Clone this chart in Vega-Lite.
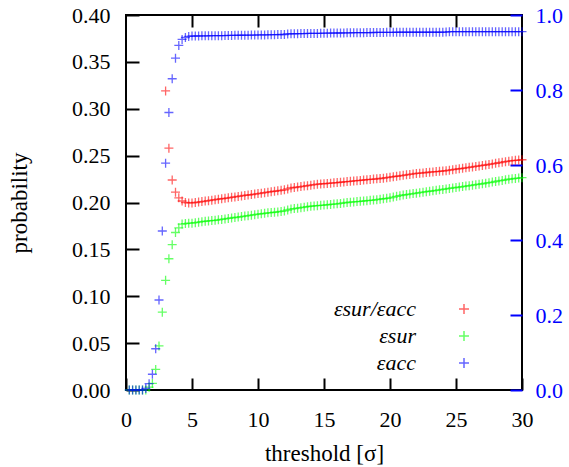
{
  "$schema": "https://vega.github.io/schema/vega-lite/v6.json",
  "autosize": {"type": "none"},
  "padding": {"left": 126, "top": 15, "right": 47, "bottom": 77},
  "width": 396,
  "height": 375,
  "background": "white",
  "config": {
    "view": {"stroke": "#000000", "strokeWidth": 2}
  },
  "data": {"values": [
    {"t":0.25,"k":"εacc","v":0},{"t":0.5,"k":"εacc","v":0},{"t":0.75,"k":"εacc","v":0},{"t":1,"k":"εacc","v":0},{"t":1.25,"k":"εacc","v":0},
    {"t":1.5,"k":"εacc","v":0.004},{"t":1.75,"k":"εacc","v":0.017},{"t":2,"k":"εacc","v":0.042},{"t":2.25,"k":"εacc","v":0.11},{"t":2.5,"k":"εacc","v":0.24},
    {"t":2.75,"k":"εacc","v":0.424},{"t":3,"k":"εacc","v":0.605},{"t":3.25,"k":"εacc","v":0.74},{"t":3.5,"k":"εacc","v":0.83},{"t":3.75,"k":"εacc","v":0.885},
    {"t":4,"k":"εacc","v":0.919},{"t":4.25,"k":"εacc","v":0.935},{"t":4.5,"k":"εacc","v":0.94},{"t":4.75,"k":"εacc","v":0.943},{"t":5,"k":"εacc","v":0.944},
    {"t":5.25,"k":"εacc","v":0.944},{"t":5.5,"k":"εacc","v":0.944},{"t":5.75,"k":"εacc","v":0.9445},{"t":6,"k":"εacc","v":0.9445},{"t":6.25,"k":"εacc","v":0.9445},
    {"t":6.5,"k":"εacc","v":0.945},{"t":6.75,"k":"εacc","v":0.945},{"t":7,"k":"εacc","v":0.945},{"t":7.25,"k":"εacc","v":0.945},{"t":7.5,"k":"εacc","v":0.9452},
    {"t":7.75,"k":"εacc","v":0.9454},{"t":8,"k":"εacc","v":0.9456},{"t":8.25,"k":"εacc","v":0.9458},{"t":8.5,"k":"εacc","v":0.946},{"t":8.75,"k":"εacc","v":0.946},
    {"t":9,"k":"εacc","v":0.946},{"t":9.25,"k":"εacc","v":0.9462},{"t":9.5,"k":"εacc","v":0.9464},{"t":9.75,"k":"εacc","v":0.9466},{"t":10,"k":"εacc","v":0.9468},
    {"t":10.25,"k":"εacc","v":0.947},{"t":10.5,"k":"εacc","v":0.947},{"t":10.75,"k":"εacc","v":0.9472},{"t":11,"k":"εacc","v":0.9474},{"t":11.25,"k":"εacc","v":0.9476},
    {"t":11.5,"k":"εacc","v":0.9478},{"t":11.75,"k":"εacc","v":0.948},{"t":12,"k":"εacc","v":0.948},{"t":12.25,"k":"εacc","v":0.9495},{"t":12.5,"k":"εacc","v":0.95},
    {"t":12.75,"k":"εacc","v":0.95},{"t":13,"k":"εacc","v":0.9502},{"t":13.25,"k":"εacc","v":0.9504},{"t":13.5,"k":"εacc","v":0.9506},{"t":13.75,"k":"εacc","v":0.9508},
    {"t":14,"k":"εacc","v":0.951},{"t":14.25,"k":"εacc","v":0.951},{"t":14.5,"k":"εacc","v":0.951},{"t":14.75,"k":"εacc","v":0.9512},{"t":15,"k":"εacc","v":0.9514},
    {"t":15.25,"k":"εacc","v":0.9516},{"t":15.5,"k":"εacc","v":0.9518},{"t":15.75,"k":"εacc","v":0.952},{"t":16,"k":"εacc","v":0.952},{"t":16.25,"k":"εacc","v":0.952},
    {"t":16.5,"k":"εacc","v":0.9522},{"t":16.75,"k":"εacc","v":0.9524},{"t":17,"k":"εacc","v":0.9526},{"t":17.25,"k":"εacc","v":0.9528},{"t":17.5,"k":"εacc","v":0.953},
    {"t":17.75,"k":"εacc","v":0.953},{"t":18,"k":"εacc","v":0.953},{"t":18.25,"k":"εacc","v":0.9531},{"t":18.5,"k":"εacc","v":0.9532},{"t":18.75,"k":"εacc","v":0.9533},
    {"t":19,"k":"εacc","v":0.9534},{"t":19.25,"k":"εacc","v":0.9535},{"t":19.5,"k":"εacc","v":0.9536},{"t":19.75,"k":"εacc","v":0.9537},{"t":20,"k":"εacc","v":0.9538},
    {"t":20.25,"k":"εacc","v":0.9539},{"t":20.5,"k":"εacc","v":0.954},{"t":20.75,"k":"εacc","v":0.954},{"t":21,"k":"εacc","v":0.954},{"t":21.25,"k":"εacc","v":0.954},
    {"t":21.5,"k":"εacc","v":0.954},{"t":21.75,"k":"εacc","v":0.954},{"t":22,"k":"εacc","v":0.954},{"t":22.25,"k":"εacc","v":0.954},{"t":22.5,"k":"εacc","v":0.954},
    {"t":22.75,"k":"εacc","v":0.954},{"t":23,"k":"εacc","v":0.954},{"t":23.25,"k":"εacc","v":0.954},{"t":23.5,"k":"εacc","v":0.954},{"t":23.75,"k":"εacc","v":0.954},
    {"t":24,"k":"εacc","v":0.954},{"t":24.25,"k":"εacc","v":0.9545},{"t":24.5,"k":"εacc","v":0.9555},{"t":24.75,"k":"εacc","v":0.9555},{"t":25,"k":"εacc","v":0.9555},
    {"t":25.25,"k":"εacc","v":0.9555},{"t":25.5,"k":"εacc","v":0.9555},{"t":25.75,"k":"εacc","v":0.9556},{"t":26,"k":"εacc","v":0.9556},{"t":26.25,"k":"εacc","v":0.9556},
    {"t":26.5,"k":"εacc","v":0.9556},{"t":26.75,"k":"εacc","v":0.9556},{"t":27,"k":"εacc","v":0.9556},{"t":27.25,"k":"εacc","v":0.9556},{"t":27.5,"k":"εacc","v":0.9556},
    {"t":27.75,"k":"εacc","v":0.9556},{"t":28,"k":"εacc","v":0.9556},{"t":28.25,"k":"εacc","v":0.9556},{"t":28.5,"k":"εacc","v":0.9556},{"t":28.75,"k":"εacc","v":0.9556},
    {"t":29,"k":"εacc","v":0.9556},{"t":29.25,"k":"εacc","v":0.9556},{"t":29.5,"k":"εacc","v":0.9556},{"t":29.75,"k":"εacc","v":0.9556},{"t":30,"k":"εacc","v":0.9556},

    {"t":0.25,"k":"εsur","v":0},{"t":0.5,"k":"εsur","v":0},{"t":0.75,"k":"εsur","v":0},{"t":1,"k":"εsur","v":0},{"t":1.25,"k":"εsur","v":0},
    {"t":1.5,"k":"εsur","v":0},{"t":1.75,"k":"εsur","v":0.003},{"t":2,"k":"εsur","v":0.007},{"t":2.25,"k":"εsur","v":0.022},{"t":2.5,"k":"εsur","v":0.047},
    {"t":2.75,"k":"εsur","v":0.083},{"t":3,"k":"εsur","v":0.117},{"t":3.25,"k":"εsur","v":0.14},{"t":3.5,"k":"εsur","v":0.155},{"t":3.75,"k":"εsur","v":0.168},
    {"t":4,"k":"εsur","v":0.173},{"t":4.25,"k":"εsur","v":0.177},{"t":4.5,"k":"εsur","v":0.1775},{"t":4.75,"k":"εsur","v":0.178},{"t":5,"k":"εsur","v":0.178},
    {"t":5.25,"k":"εsur","v":0.1785},{"t":5.5,"k":"εsur","v":0.179},{"t":5.75,"k":"εsur","v":0.1795},{"t":6,"k":"εsur","v":0.18},{"t":6.25,"k":"εsur","v":0.1803},
    {"t":6.5,"k":"εsur","v":0.1807},{"t":6.75,"k":"εsur","v":0.181},{"t":7,"k":"εsur","v":0.1815},{"t":7.25,"k":"εsur","v":0.182},{"t":7.5,"k":"εsur","v":0.1825},
    {"t":7.75,"k":"εsur","v":0.183},{"t":8,"k":"εsur","v":0.1835},{"t":8.25,"k":"εsur","v":0.184},{"t":8.5,"k":"εsur","v":0.1845},{"t":8.75,"k":"εsur","v":0.185},
    {"t":9,"k":"εsur","v":0.1855},{"t":9.25,"k":"εsur","v":0.186},{"t":9.5,"k":"εsur","v":0.1865},{"t":9.75,"k":"εsur","v":0.187},{"t":10,"k":"εsur","v":0.1875},
    {"t":10.25,"k":"εsur","v":0.188},{"t":10.5,"k":"εsur","v":0.1885},{"t":10.75,"k":"εsur","v":0.189},{"t":11,"k":"εsur","v":0.1893},{"t":11.25,"k":"εsur","v":0.1896},
    {"t":11.5,"k":"εsur","v":0.19},{"t":11.75,"k":"εsur","v":0.1905},{"t":12,"k":"εsur","v":0.191},{"t":12.25,"k":"εsur","v":0.192},{"t":12.5,"k":"εsur","v":0.193},
    {"t":12.75,"k":"εsur","v":0.1935},{"t":13,"k":"εsur","v":0.194},{"t":13.25,"k":"εsur","v":0.1945},{"t":13.5,"k":"εsur","v":0.195},{"t":13.75,"k":"εsur","v":0.1955},
    {"t":14,"k":"εsur","v":0.196},{"t":14.25,"k":"εsur","v":0.1963},{"t":14.5,"k":"εsur","v":0.1966},{"t":14.75,"k":"εsur","v":0.197},{"t":15,"k":"εsur","v":0.1973},
    {"t":15.25,"k":"εsur","v":0.1976},{"t":15.5,"k":"εsur","v":0.198},{"t":15.75,"k":"εsur","v":0.1983},{"t":16,"k":"εsur","v":0.1986},{"t":16.25,"k":"εsur","v":0.199},
    {"t":16.5,"k":"εsur","v":0.1995},{"t":16.75,"k":"εsur","v":0.2},{"t":17,"k":"εsur","v":0.2003},{"t":17.25,"k":"εsur","v":0.2006},{"t":17.5,"k":"εsur","v":0.201},
    {"t":17.75,"k":"εsur","v":0.2013},{"t":18,"k":"εsur","v":0.2016},{"t":18.25,"k":"εsur","v":0.202},{"t":18.5,"k":"εsur","v":0.2023},{"t":18.75,"k":"εsur","v":0.2026},
    {"t":19,"k":"εsur","v":0.203},{"t":19.25,"k":"εsur","v":0.2035},{"t":19.5,"k":"εsur","v":0.204},{"t":19.75,"k":"εsur","v":0.2045},{"t":20,"k":"εsur","v":0.205},
    {"t":20.25,"k":"εsur","v":0.2058},{"t":20.5,"k":"εsur","v":0.2066},{"t":20.75,"k":"εsur","v":0.2073},{"t":21,"k":"εsur","v":0.208},{"t":21.25,"k":"εsur","v":0.2085},
    {"t":21.5,"k":"εsur","v":0.209},{"t":21.75,"k":"εsur","v":0.2095},{"t":22,"k":"εsur","v":0.21},{"t":22.25,"k":"εsur","v":0.2105},{"t":22.5,"k":"εsur","v":0.211},
    {"t":22.75,"k":"εsur","v":0.2115},{"t":23,"k":"εsur","v":0.212},{"t":23.25,"k":"εsur","v":0.2125},{"t":23.5,"k":"εsur","v":0.213},{"t":23.75,"k":"εsur","v":0.2135},
    {"t":24,"k":"εsur","v":0.214},{"t":24.25,"k":"εsur","v":0.2145},{"t":24.5,"k":"εsur","v":0.215},{"t":24.75,"k":"εsur","v":0.2155},{"t":25,"k":"εsur","v":0.216},
    {"t":25.25,"k":"εsur","v":0.2165},{"t":25.5,"k":"εsur","v":0.217},{"t":25.75,"k":"εsur","v":0.2175},{"t":26,"k":"εsur","v":0.218},{"t":26.25,"k":"εsur","v":0.2185},
    {"t":26.5,"k":"εsur","v":0.219},{"t":26.75,"k":"εsur","v":0.2195},{"t":27,"k":"εsur","v":0.22},{"t":27.25,"k":"εsur","v":0.2206},{"t":27.5,"k":"εsur","v":0.2212},
    {"t":27.75,"k":"εsur","v":0.2218},{"t":28,"k":"εsur","v":0.2224},{"t":28.25,"k":"εsur","v":0.223},{"t":28.5,"k":"εsur","v":0.2236},{"t":28.75,"k":"εsur","v":0.2242},
    {"t":29,"k":"εsur","v":0.2248},{"t":29.25,"k":"εsur","v":0.2253},{"t":29.5,"k":"εsur","v":0.2257},{"t":29.75,"k":"εsur","v":0.2261},{"t":30,"k":"εsur","v":0.2265},

    {"t":3,"k":"εsur/εacc","v":0.319},{"t":3.25,"k":"εsur/εacc","v":0.258},{"t":3.5,"k":"εsur/εacc","v":0.224},{"t":3.75,"k":"εsur/εacc","v":0.211},{"t":4,"k":"εsur/εacc","v":0.205},
    {"t":4.25,"k":"εsur/εacc","v":0.2016},{"t":4.5,"k":"εsur/εacc","v":0.2},{"t":4.75,"k":"εsur/εacc","v":0.1995},{"t":5,"k":"εsur/εacc","v":0.1995},{"t":5.25,"k":"εsur/εacc","v":0.2},
    {"t":5.5,"k":"εsur/εacc","v":0.2005},{"t":5.75,"k":"εsur/εacc","v":0.201},{"t":6,"k":"εsur/εacc","v":0.2015},{"t":6.25,"k":"εsur/εacc","v":0.202},{"t":6.5,"k":"εsur/εacc","v":0.2025},
    {"t":6.75,"k":"εsur/εacc","v":0.203},{"t":7,"k":"εsur/εacc","v":0.2035},{"t":7.25,"k":"εsur/εacc","v":0.204},{"t":7.5,"k":"εsur/εacc","v":0.2045},{"t":7.75,"k":"εsur/εacc","v":0.205},
    {"t":8,"k":"εsur/εacc","v":0.2055},{"t":8.25,"k":"εsur/εacc","v":0.206},{"t":8.5,"k":"εsur/εacc","v":0.2065},{"t":8.75,"k":"εsur/εacc","v":0.207},{"t":9,"k":"εsur/εacc","v":0.2075},
    {"t":9.25,"k":"εsur/εacc","v":0.208},{"t":9.5,"k":"εsur/εacc","v":0.2085},{"t":9.75,"k":"εsur/εacc","v":0.209},{"t":10,"k":"εsur/εacc","v":0.2095},{"t":10.25,"k":"εsur/εacc","v":0.21},
    {"t":10.5,"k":"εsur/εacc","v":0.2105},{"t":10.75,"k":"εsur/εacc","v":0.211},{"t":11,"k":"εsur/εacc","v":0.2115},{"t":11.25,"k":"εsur/εacc","v":0.212},{"t":11.5,"k":"εsur/εacc","v":0.2125},
    {"t":11.75,"k":"εsur/εacc","v":0.213},{"t":12,"k":"εsur/εacc","v":0.2135},{"t":12.25,"k":"εsur/εacc","v":0.2145},{"t":12.5,"k":"εsur/εacc","v":0.2155},{"t":12.75,"k":"εsur/εacc","v":0.216},
    {"t":13,"k":"εsur/εacc","v":0.2165},{"t":13.25,"k":"εsur/εacc","v":0.217},{"t":13.5,"k":"εsur/εacc","v":0.2175},{"t":13.75,"k":"εsur/εacc","v":0.218},{"t":14,"k":"εsur/εacc","v":0.2185},
    {"t":14.25,"k":"εsur/εacc","v":0.219},{"t":14.5,"k":"εsur/εacc","v":0.2195},{"t":14.75,"k":"εsur/εacc","v":0.2198},{"t":15,"k":"εsur/εacc","v":0.22},{"t":15.25,"k":"εsur/εacc","v":0.2203},
    {"t":15.5,"k":"εsur/εacc","v":0.2206},{"t":15.75,"k":"εsur/εacc","v":0.221},{"t":16,"k":"εsur/εacc","v":0.2213},{"t":16.25,"k":"εsur/εacc","v":0.2216},{"t":16.5,"k":"εsur/εacc","v":0.222},
    {"t":16.75,"k":"εsur/εacc","v":0.2223},{"t":17,"k":"εsur/εacc","v":0.2226},{"t":17.25,"k":"εsur/εacc","v":0.223},{"t":17.5,"k":"εsur/εacc","v":0.2233},{"t":17.75,"k":"εsur/εacc","v":0.2236},
    {"t":18,"k":"εsur/εacc","v":0.224},{"t":18.25,"k":"εsur/εacc","v":0.2243},{"t":18.5,"k":"εsur/εacc","v":0.2246},{"t":18.75,"k":"εsur/εacc","v":0.225},{"t":19,"k":"εsur/εacc","v":0.2253},
    {"t":19.25,"k":"εsur/εacc","v":0.2256},{"t":19.5,"k":"εsur/εacc","v":0.226},{"t":19.75,"k":"εsur/εacc","v":0.2265},{"t":20,"k":"εsur/εacc","v":0.227},{"t":20.25,"k":"εsur/εacc","v":0.2275},
    {"t":20.5,"k":"εsur/εacc","v":0.228},{"t":20.75,"k":"εsur/εacc","v":0.2285},{"t":21,"k":"εsur/εacc","v":0.229},{"t":21.25,"k":"εsur/εacc","v":0.2295},{"t":21.5,"k":"εsur/εacc","v":0.23},
    {"t":21.75,"k":"εsur/εacc","v":0.2305},{"t":22,"k":"εsur/εacc","v":0.231},{"t":22.25,"k":"εsur/εacc","v":0.2313},{"t":22.5,"k":"εsur/εacc","v":0.2316},{"t":22.75,"k":"εsur/εacc","v":0.232},
    {"t":23,"k":"εsur/εacc","v":0.2323},{"t":23.25,"k":"εsur/εacc","v":0.2326},{"t":23.5,"k":"εsur/εacc","v":0.233},{"t":23.75,"k":"εsur/εacc","v":0.2333},{"t":24,"k":"εsur/εacc","v":0.2336},
    {"t":24.25,"k":"εsur/εacc","v":0.234},{"t":24.5,"k":"εsur/εacc","v":0.2345},{"t":24.75,"k":"εsur/εacc","v":0.235},{"t":25,"k":"εsur/εacc","v":0.2355},{"t":25.25,"k":"εsur/εacc","v":0.236},
    {"t":25.5,"k":"εsur/εacc","v":0.2365},{"t":25.75,"k":"εsur/εacc","v":0.237},{"t":26,"k":"εsur/εacc","v":0.2375},{"t":26.25,"k":"εsur/εacc","v":0.238},{"t":26.5,"k":"εsur/εacc","v":0.2385},
    {"t":26.75,"k":"εsur/εacc","v":0.239},{"t":27,"k":"εsur/εacc","v":0.2395},{"t":27.25,"k":"εsur/εacc","v":0.24},{"t":27.5,"k":"εsur/εacc","v":0.2406},{"t":27.75,"k":"εsur/εacc","v":0.2412},
    {"t":28,"k":"εsur/εacc","v":0.2418},{"t":28.25,"k":"εsur/εacc","v":0.2424},{"t":28.5,"k":"εsur/εacc","v":0.243},{"t":28.75,"k":"εsur/εacc","v":0.2436},{"t":29,"k":"εsur/εacc","v":0.2441},
    {"t":29.25,"k":"εsur/εacc","v":0.2446},{"t":29.5,"k":"εsur/εacc","v":0.245},{"t":29.75,"k":"εsur/εacc","v":0.2453},{"t":30,"k":"εsur/εacc","v":0.2456}
  ]},
  "layer": [
    {
      "transform": [{"filter": "datum.k != 'εacc'"}],
      "mark": {"type": "point", "shape": "M-1,0H1M0,-1V1", "filled": false, "size": 81, "strokeWidth": 1.3, "opacity": 0.6, "clip": false},
      "encoding": {
        "x": {"field": "t", "type": "quantitative",
              "scale": {"domain": [0, 30], "nice": false, "zero": false},
              "axis": {"orient": "bottom", "values": [0, 5, 10, 15, 20, 25, 30], "title": "threshold [σ]", "grid": false, "domain": false,
                       "tickColor": "#000000", "tickSize": -12, "tickWidth": 2, "labelFlush": false,
                       "labelFont": "Liberation Serif", "labelFontSize": 22, "labelColor": "#000000",
                       "titleFont": "Liberation Serif", "titleFontSize": 23, "titleFontWeight": "normal", "titleColor": "#000000",
                       "labelPadding": 31, "titlePadding": 12}},
        "y": {"field": "v", "type": "quantitative",
              "scale": {"domain": [0, 0.4], "nice": false},
              "axis": {"orient": "left", "values": [0, 0.05, 0.1, 0.15, 0.2, 0.25, 0.3, 0.35, 0.4], "format": ".2f", "title": "probability", "grid": false, "domain": false,
                       "tickColor": "#000000", "tickSize": -13, "tickWidth": 2, "labelFlush": false,
                       "labelFont": "Liberation Serif", "labelFontSize": 22, "labelColor": "#000000",
                       "titleFont": "Liberation Serif", "titleFontSize": 23, "titleFontWeight": "normal", "titleColor": "#000000",
                       "labelPadding": 29, "titlePadding": 40}},
        "color": {"field": "k", "type": "nominal",
                  "scale": {"domain": ["εsur/εacc", "εsur", "εacc"], "range": ["#ff0000", "#00ff00", "#0000ff"]},
                  "legend": {"orient": "none", "legendX": 327, "legendY": 283, "title": null,
                             "labelFont": "Liberation Serif", "labelFontStyle": "italic", "labelFontSize": 22, "labelColor": "#000000",
                             "labelAlign": "right", "labelOffset": -59, "rowPadding": 5}}
      }
    },
    {
      "transform": [{"filter": "datum.k == 'εacc'"}],
      "mark": {"type": "point", "shape": "M-1,0H1M0,-1V1", "filled": false, "size": 81, "strokeWidth": 1.3, "opacity": 0.6, "clip": false},
      "encoding": {
        "x": {"field": "t", "type": "quantitative",
              "scale": {"domain": [0, 30], "nice": false, "zero": false},
              "axis": {"orient": "top", "values": [5, 10, 15, 20, 25], "labels": false, "title": null, "grid": false, "domain": false,
                       "tickColor": "#000000", "tickSize": -12, "tickWidth": 2}},
        "y": {"field": "v", "type": "quantitative",
              "scale": {"domain": [0, 1], "nice": false},
              "axis": {"orient": "right", "values": [0, 0.2, 0.4, 0.6, 0.8, 1], "format": ".1f", "title": null, "grid": false, "domain": false,
                       "labelFont": "Liberation Serif", "labelFontSize": 22, "labelFlush": false,
                       "labelColor": "#0000ff", "tickColor": "#0000ff", "tickSize": -12, "tickWidth": 2, "labelPadding": 25}},
        "color": {"field": "k", "type": "nominal"}
      }
    }
  ],
  "resolve": {"scale": {"y": "independent"}, "axis": {"x": "independent"}}
}
